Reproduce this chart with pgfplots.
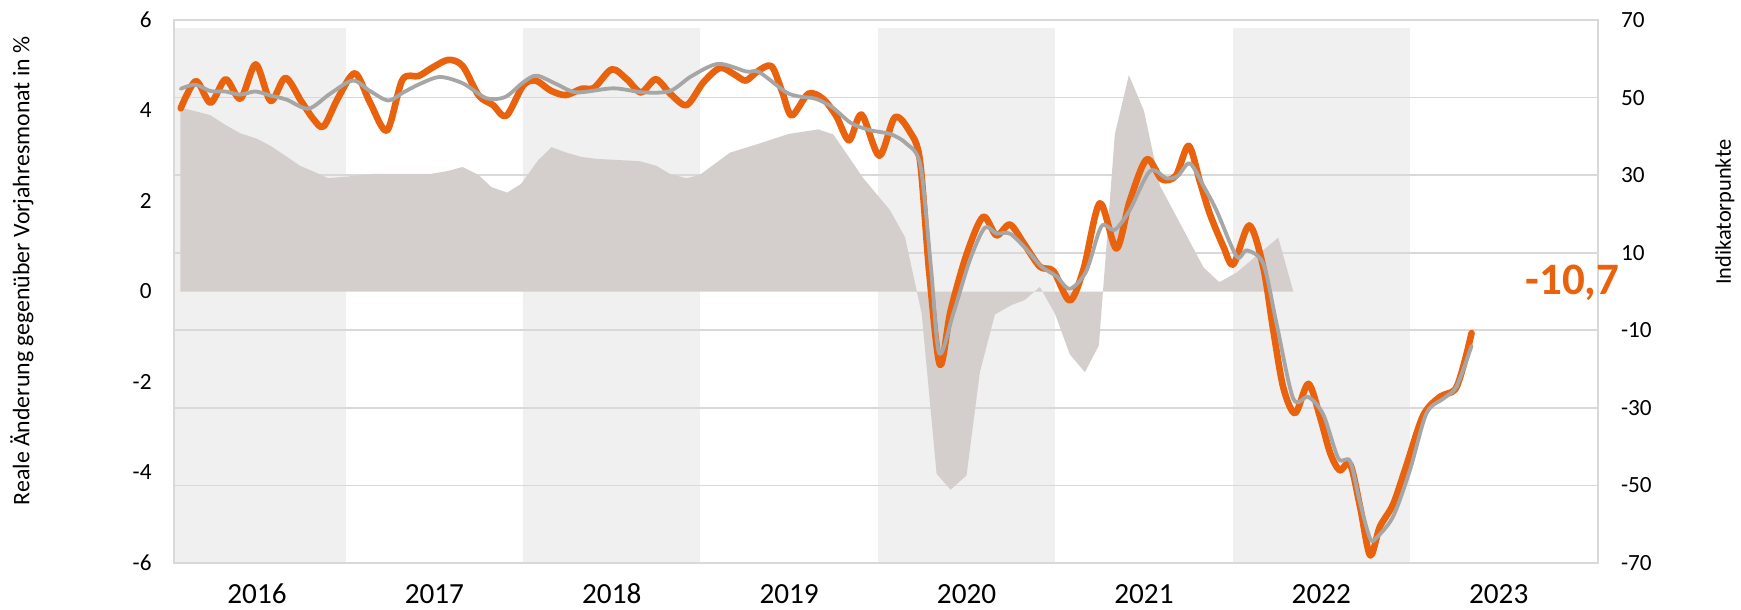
\documentclass[border=0pt]{standalone}
\usepackage{fontspec}
\setmainfont{Carlito}
\usepackage{pgfplots}
\pgfplotsset{compat=1.18}
\definecolor{orangec}{RGB}{233,98,14}
\definecolor{grayc}{RGB}{166,166,166}
\definecolor{areac}{RGB}{212,207,204}
\definecolor{bandc}{RGB}{240,240,240}
\definecolor{gridc}{RGB}{217,217,217}
\pgfplotsset{base/.style={width=711.85pt,height=271.5pt,scale only axis,
  xmin=2016.032,xmax=2024.058,at={(0,0)},anchor=south west}}
\begin{document}
\begin{tikzpicture}
\path[use as bounding box] (-87pt,-23.5pt) rectangle (783.5pt,281.5pt);
% background bands
\begin{axis}[base, ymin=-70, ymax=70, hide axis]
\addplot[fill=bandc,draw=none] coordinates {(2016,-70) (2016,68) (2017,68) (2017,-70)} -- cycle;
\addplot[fill=bandc,draw=none] coordinates {(2018,-70) (2018,68) (2019,68) (2019,-70)} -- cycle;
\addplot[fill=bandc,draw=none] coordinates {(2020,-70) (2020,68) (2021,68) (2021,-70)} -- cycle;
\addplot[fill=bandc,draw=none] coordinates {(2022,-70) (2022,68) (2023,68) (2023,-70)} -- cycle;
\end{axis}
% grid, area, right axis, years
\begin{axis}[base, ymin=-70, ymax=70,
  ytick={-70,-50,-30,-10,10,30,50,70}, ymajorgrids,
  grid style={gridc, line width=0.9pt},
  axis line style={gridc, line width=0.9pt},
  major tick length=0pt,
  yticklabel pos=right,
  xtick={2016.5,2017.5,2018.5,2019.5,2020.5,2021.5,2022.5,2023.5},
  xticklabels={2016,2017,2018,2019,2020,2021,2022,2023},
  xticklabel style={anchor=center, inner sep=0pt, yshift=-15.5pt, font=\fontsize{14.6}{16}\selectfont},
  yticklabel style={anchor=west, inner sep=0pt, xshift=11.5pt, font=\fontsize{11.6}{13}\selectfont},
  /pgf/number format/assume math mode=true,
  ylabel={Indikatorpunkte},
  ylabel style={at={(axis description cs:1.0894,0.646)}, anchor=center, font=\fontsize{11.2}{13}\selectfont},
]
\addplot[fill=areac, draw=none] table[row sep=\\] {
2016.068 47.4\\
2016.150 46.5\\
2016.235 45.5\\
2016.320 43.0\\
2016.405 40.8\\
2016.499 39.4\\
2016.574 37.6\\
2016.660 35.0\\
2016.743 32.4\\
2016.825 30.8\\
2016.902 29.2\\
2017.156 30.3\\
2017.475 30.3\\
2017.569 31.0\\
2017.659 32.1\\
2017.747 30.1\\
2017.822 26.9\\
2017.910 25.5\\
2017.990 27.8\\
2018.084 33.8\\
2018.160 37.2\\
2018.245 35.8\\
2018.329 34.7\\
2018.414 34.2\\
2018.658 33.6\\
2018.752 32.4\\
2018.828 30.3\\
2018.922 29.2\\
2018.997 30.1\\
2019.166 35.8\\
2019.335 38.2\\
2019.495 40.6\\
2019.664 41.8\\
2019.749 40.5\\
2019.918 29.2\\
2020.068 21.0\\
2020.153 14.0\\
2020.247 -5.7\\
2020.331 -47.0\\
2020.410 -51.1\\
2020.500 -47.4\\
2020.575 -20.8\\
2020.660 -5.9\\
2020.753 -3.5\\
2020.828 -2.2\\
2020.913 1.2\\
2020.998 -5.7\\
2021.082 -16.2\\
2021.167 -20.8\\
2021.246 -13.9\\
2021.336 40.6\\
2021.415 55.8\\
2021.500 46.6\\
2021.590 27.3\\
2021.836 6.2\\
2021.925 2.4\\
2022.023 4.9\\
2022.257 13.9\\
2022.342 0\\
} \closedcycle;
\end{axis}
% lines, left axis
\begin{axis}[base, ymin=-6, ymax=6,
  ytick={-6,-4,-2,0,2,4,6},
  hide x axis,
  axis line style={draw=none},
  major tick length=0pt,
  yticklabel pos=left,
  yticklabel style={anchor=east, inner sep=0pt, xshift=-11pt, font=\fontsize{11.6}{13}\selectfont},
  /pgf/number format/assume math mode=true,
  ylabel={Reale Änderung gegenüber Vorjahresmonat in \%},
  ylabel style={at={(axis description cs:-0.1068,0.538)}, anchor=center, font=\fontsize{11.9}{13}\selectfont},
  clip mode=individual,
]
\addplot[orangec, line width=3.3pt, smooth, line join=round, line cap=round] table[row sep=\\] {
2016.070 4.05\\
2016.155 4.65\\
2016.238 4.17\\
2016.323 4.69\\
2016.407 4.26\\
2016.493 5.02\\
2016.577 4.21\\
2016.660 4.72\\
2016.750 4.20\\
2016.820 3.80\\
2016.876 3.65\\
2016.960 4.30\\
2017.053 4.82\\
2017.140 4.15\\
2017.233 3.56\\
2017.320 4.68\\
2017.410 4.76\\
2017.490 4.95\\
2017.580 5.12\\
2017.660 4.98\\
2017.750 4.33\\
2017.830 4.12\\
2017.905 3.88\\
2018.000 4.55\\
2018.072 4.66\\
2018.155 4.44\\
2018.240 4.34\\
2018.330 4.48\\
2018.400 4.50\\
2018.500 4.91\\
2018.585 4.69\\
2018.665 4.40\\
2018.748 4.69\\
2018.830 4.37\\
2018.922 4.12\\
2019.016 4.62\\
2019.110 4.94\\
2019.190 4.80\\
2019.255 4.66\\
2019.320 4.86\\
2019.400 4.98\\
2019.460 4.42\\
2019.514 3.89\\
2019.608 4.37\\
2019.690 4.26\\
2019.765 3.88\\
2019.838 3.34\\
2019.908 3.91\\
2020.008 3.00\\
2020.096 3.85\\
2020.180 3.53\\
2020.237 2.90\\
2020.290 0.40\\
2020.350 -1.62\\
2020.410 -0.43\\
2020.500 0.82\\
2020.593 1.65\\
2020.668 1.24\\
2020.744 1.48\\
2020.820 1.08\\
2020.913 0.55\\
2020.990 0.45\\
2021.082 -0.20\\
2021.160 0.50\\
2021.251 1.95\\
2021.345 0.95\\
2021.420 2.00\\
2021.515 2.92\\
2021.600 2.48\\
2021.680 2.56\\
2021.752 3.22\\
2021.816 2.42\\
2021.872 1.71\\
2021.947 1.00\\
2022.004 0.60\\
2022.094 1.46\\
2022.173 0.53\\
2022.230 -0.88\\
2022.286 -2.13\\
2022.352 -2.69\\
2022.427 -2.04\\
2022.493 -2.78\\
2022.549 -3.56\\
2022.603 -3.95\\
2022.662 -3.81\\
2022.718 -4.75\\
2022.775 -5.83\\
2022.830 -5.20\\
2022.905 -4.70\\
2022.980 -3.84\\
2023.074 -2.74\\
2023.168 -2.33\\
2023.253 -2.17\\
2023.300 -1.66\\
2023.347 -0.92\\
};
\addplot[grayc, line width=1.9pt, smooth, line join=round, line cap=round] table[row sep=\\] {
2016.070 4.48\\
2016.152 4.57\\
2016.237 4.43\\
2016.320 4.42\\
2016.405 4.35\\
2016.490 4.42\\
2016.575 4.33\\
2016.667 4.24\\
2016.790 4.04\\
2016.912 4.37\\
2017.040 4.66\\
2017.137 4.43\\
2017.240 4.22\\
2017.325 4.40\\
2017.420 4.59\\
2017.531 4.74\\
2017.660 4.60\\
2017.794 4.27\\
2017.900 4.30\\
2018.000 4.62\\
2018.076 4.77\\
2018.190 4.58\\
2018.302 4.40\\
2018.508 4.49\\
2018.677 4.40\\
2018.828 4.43\\
2018.950 4.76\\
2019.100 5.03\\
2019.260 4.86\\
2019.330 4.85\\
2019.480 4.41\\
2019.555 4.31\\
2019.648 4.26\\
2019.740 4.08\\
2019.850 3.72\\
2019.960 3.56\\
2020.070 3.48\\
2020.160 3.27\\
2020.240 2.78\\
2020.300 0.50\\
2020.346 -1.37\\
2020.425 -0.49\\
2020.519 0.70\\
2020.603 1.41\\
2020.668 1.28\\
2020.744 1.28\\
2020.838 0.93\\
2020.922 0.55\\
2021.006 0.34\\
2021.082 0.06\\
2021.175 0.45\\
2021.260 1.44\\
2021.335 1.36\\
2021.420 1.80\\
2021.534 2.66\\
2021.628 2.50\\
2021.690 2.55\\
2021.759 2.83\\
2021.840 2.30\\
2021.909 1.79\\
2022.023 0.77\\
2022.079 0.91\\
2022.173 0.61\\
2022.248 -0.72\\
2022.342 -2.37\\
2022.427 -2.33\\
2022.511 -2.72\\
2022.596 -3.69\\
2022.662 -3.75\\
2022.717 -4.65\\
2022.775 -5.46\\
2022.811 -5.44\\
2022.905 -4.97\\
2023.000 -3.94\\
2023.093 -2.69\\
2023.187 -2.37\\
2023.262 -2.10\\
2023.347 -1.20\\
};
\node[anchor=center, text=orangec, font=\fontsize{22.5}{24}\selectfont\bfseries] at (axis cs:2023.915,0.2) {-10,7};
\end{axis}
\end{tikzpicture}
\end{document}
